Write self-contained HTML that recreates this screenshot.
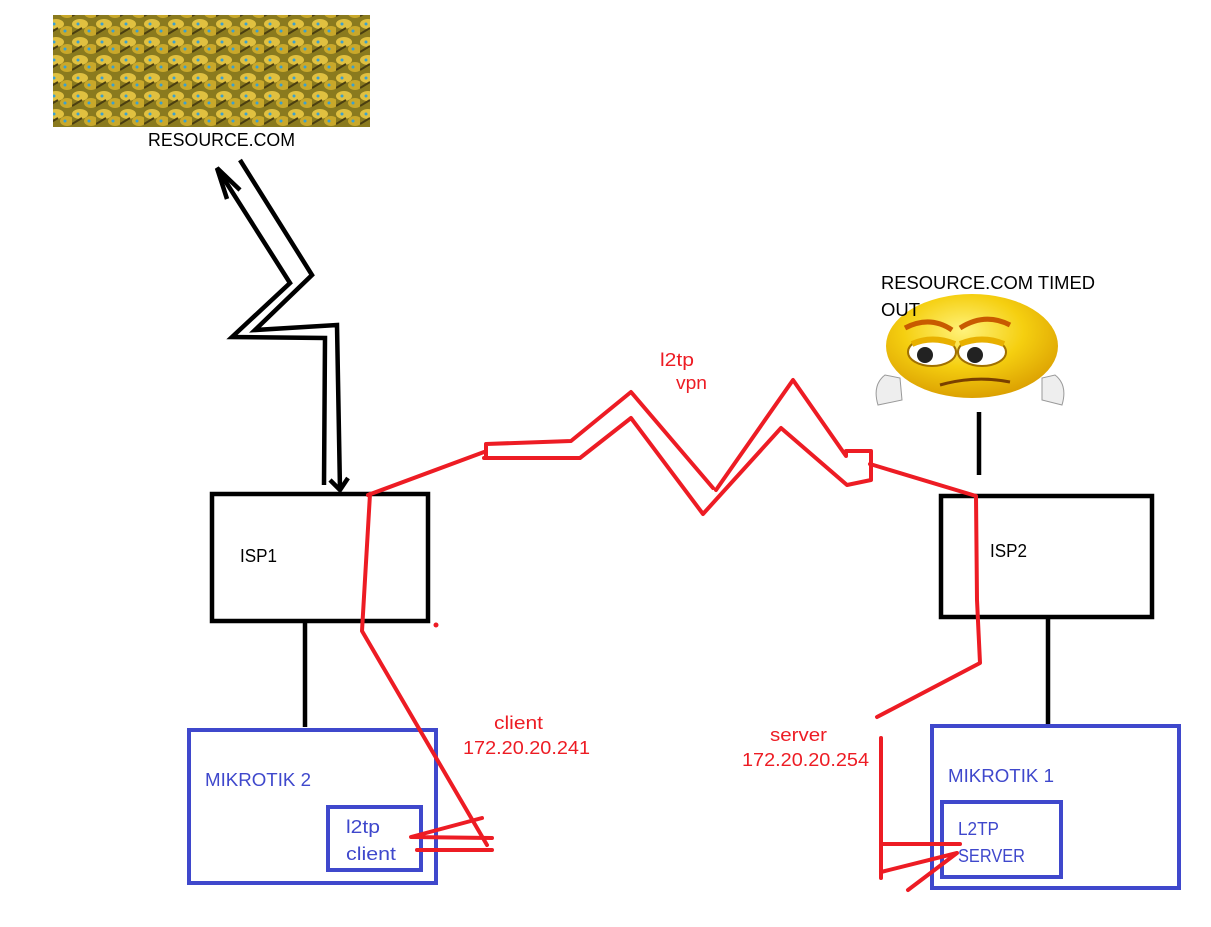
<!DOCTYPE html>
<html><head><meta charset="utf-8"><style>
html,body{margin:0;padding:0;background:#fff;}
body{width:1211px;height:927px;overflow:hidden;position:relative;font-family:"Liberation Sans",sans-serif;}
</style></head><body>
<svg width="1211" height="927" viewBox="0 0 1211 927" xmlns="http://www.w3.org/2000/svg" style="position:absolute;left:0;top:0">
<defs>
<pattern id="coins" width="24" height="18" patternUnits="userSpaceOnUse">
<rect width="24" height="18" fill="#8a7a1e"/>
<ellipse cx="8" cy="6" rx="8" ry="5" fill="#e0c040"/>
<ellipse cx="19" cy="13" rx="7" ry="5" fill="#c9a82a"/>
<circle cx="6" cy="6" r="1.5" fill="#3aa0d0"/>
<circle cx="17" cy="13" r="1.5" fill="#3aa0d0"/>
<path d="M0 16 L10 10" stroke="#4a3e10" stroke-width="2"/>
</pattern>
<radialGradient id="face" cx="0.45" cy="0.35" r="0.7">
<stop offset="0" stop-color="#fff27a"/><stop offset="0.5" stop-color="#f5cf10"/><stop offset="1" stop-color="#d89a00"/>
</radialGradient>
</defs>
<rect x="53" y="15" width="317" height="112" fill="url(#coins)"/>
<text x="148" y="146" font-size="18" textLength="147" lengthAdjust="spacingAndGlyphs" fill="#000">RESOURCE.COM</text>

<g fill="none" stroke="#000" stroke-width="4.5" stroke-linejoin="miter">
<polyline points="240,160 312,275 255,330 337,325 340,490"/>
<polyline points="330,480 340,490 348,478"/>
<polyline points="217,168 290,283 232,337 325,338 324,485"/>
<polyline points="227,199 217,168 240,190"/>
<line x1="305" y1="621" x2="305" y2="727"/>
<line x1="1048" y1="617" x2="1048" y2="724"/>
<line x1="979" y1="412" x2="979" y2="475"/>
<rect x="212" y="494" width="216" height="127"/>
<rect x="941" y="496" width="211" height="121"/>
</g>
<g fill="none" stroke="#3f48cc" stroke-width="4">
<rect x="189" y="730" width="247" height="153"/>
<rect x="328" y="807" width="93" height="63"/>
<rect x="932" y="726" width="247" height="162"/>
<rect x="942" y="802" width="119" height="75"/>
</g>

<ellipse cx="972" cy="346" rx="86" ry="52" fill="url(#face)"/>
<path d="M905 328 Q930 315 952 330" stroke="#c85a00" stroke-width="5" fill="none"/>
<path d="M960 328 Q985 312 1010 325" stroke="#c85a00" stroke-width="5" fill="none"/>
<ellipse cx="932" cy="352" rx="24" ry="14" fill="#fff" stroke="#a07000" stroke-width="2"/>
<ellipse cx="982" cy="352" rx="24" ry="14" fill="#fff" stroke="#a07000" stroke-width="2"/>
<circle cx="925" cy="355" r="8" fill="#222"/><circle cx="975" cy="355" r="8" fill="#222"/>
<path d="M912 344 Q932 335 955 344" stroke="#e8b000" stroke-width="6" fill="none"/>
<path d="M960 344 Q982 335 1004 344" stroke="#e8b000" stroke-width="6" fill="none"/>
<path d="M940 385 Q975 375 1010 382" stroke="#7a4000" stroke-width="3" fill="none"/>
<path d="M878 405 Q872 385 885 375 L900 378 L902 400 Z" fill="#eee" stroke="#999"/>
<path d="M1062 405 Q1068 385 1055 375 L1042 378 L1042 400 Z" fill="#eee" stroke="#999"/>
<text x="881" y="289" font-size="18" textLength="214" lengthAdjust="spacingAndGlyphs" fill="#000">RESOURCE.COM TIMED</text>
<text x="881" y="316" font-size="18" textLength="39" lengthAdjust="spacingAndGlyphs" fill="#000">OUT</text>

<g fill="none" stroke="#ed1c24" stroke-width="4" stroke-linejoin="round" stroke-linecap="round">
<polyline points="368,495 484,452"/>
<polyline points="486,458 486,444 571,441 631,392 713,488"/>
<polyline points="484,458 580,458 631,418 703,514 781,428 847,485 871,480 871,451 846,451 846,456 793,380 716,490"/>
<polyline points="870,464 976,496 977,600 980,663 877,717"/>
<polyline points="370,494 362,631 487,845"/>
<polyline points="482,818 411,837 492,838"/>
<line x1="417" y1="850" x2="492" y2="850"/>
<polyline points="881,738 881,878"/>
<line x1="881" y1="844" x2="960" y2="844"/>
<polyline points="881,872 957,853 908,890"/>
</g>
<circle cx="436" cy="625" r="2.5" fill="#ed1c24"/>
<g font-size="18" fill="#ed1c24" lengthAdjust="spacingAndGlyphs">
<text x="660" y="366" textLength="34" lengthAdjust="spacingAndGlyphs">l2tp</text>
<text x="676" y="389" textLength="31" lengthAdjust="spacingAndGlyphs">vpn</text>
<text x="494" y="729" textLength="49" lengthAdjust="spacingAndGlyphs">client</text>
<text x="463" y="754" textLength="127" lengthAdjust="spacingAndGlyphs">172.20.20.241</text>
<text x="770" y="741" textLength="57" lengthAdjust="spacingAndGlyphs">server</text>
<text x="742" y="766" textLength="127" lengthAdjust="spacingAndGlyphs">172.20.20.254</text>
</g>
<g font-size="18" fill="#000">
<text x="240" y="562" textLength="37" lengthAdjust="spacingAndGlyphs">ISP1</text>
<text x="990" y="557" textLength="37" lengthAdjust="spacingAndGlyphs">ISP2</text>
</g>
<g font-size="18" fill="#3f48cc">
<text x="205" y="786" textLength="106" lengthAdjust="spacingAndGlyphs">MIKROTIK 2</text>
<text x="346" y="833" textLength="34" lengthAdjust="spacingAndGlyphs">l2tp</text>
<text x="346" y="860" textLength="50" lengthAdjust="spacingAndGlyphs">client</text>
<text x="948" y="782" textLength="106" lengthAdjust="spacingAndGlyphs">MIKROTIK 1</text>
<text x="958" y="835" textLength="41" lengthAdjust="spacingAndGlyphs">L2TP</text>
<text x="958" y="862" textLength="67" lengthAdjust="spacingAndGlyphs">SERVER</text>
</g>
</svg>
</body></html>
